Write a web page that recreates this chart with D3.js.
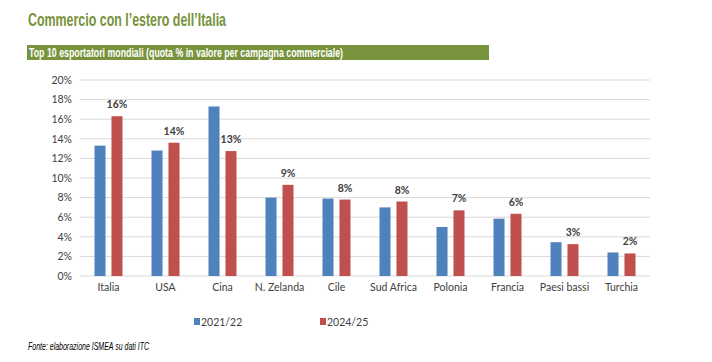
<!DOCTYPE html>
<html>
<head>
<meta charset="utf-8">
<script src="https://cdn.jsdelivr.net/npm/d3@7"></script>
<style>
  body { margin: 0; background: #fff; }
  svg { display: block; }
</style>
</head>
<body>
<div id="chart"></div>
<script>
var categories = ["Italia", "USA", "Cina", "N. Zelanda", "Cile", "Sud Africa", "Polonia", "Francia", "Paesi bassi", "Turchia"];
var series = ["2021/22", "2024/25"];
var values2122 = [13.3, 12.8, 17.3, 8.0, 7.9, 7.0, 5.0, 5.85, 3.45, 2.4];
var values2425 = [16.3, 13.6, 12.75, 9.3, 7.8, 7.6, 6.7, 6.35, 3.25, 2.3];
var labels2425 = ["16%", "14%", "13%", "9%", "8%", "8%", "7%", "6%", "3%", "2%"];
var yTicks = [0, 2, 4, 6, 8, 10, 12, 14, 16, 18, 20];

var colors = ["#4f81bd", "#c0504d"];

var W = 712, H = 362;
var margin = {top: 80, left: 80, right: 62, bottom: 86};
var width = W - margin.left - margin.right,
    height = H - margin.top - margin.bottom;

var svg = d3.select("#chart").append("svg")
    .attr("width", W)
    .attr("height", H);

var fontHead = "'Liberation Sans', Arial, sans-serif";

// heading (condensed type squeezed to width)
svg.append("text")
    .attr("x", 28).attr("y", 26)
    .attr("fill", "#77933c")
    .attr("font-family", fontHead)
    .attr("font-weight", "bold")
    .attr("font-size", 19)
    .attr("textLength", 198)
    .attr("lengthAdjust", "spacingAndGlyphs")
    .text("Commercio con l\u2019estero dell\u2019Italia");

svg.append("rect")
    .attr("x", 27).attr("y", 45)
    .attr("width", 462).attr("height", 15)
    .attr("fill", "#77933c");

svg.append("text")
    .attr("x", 29).attr("y", 57)
    .attr("fill", "#fff")
    .attr("font-family", fontHead)
    .attr("font-weight", "bold")
    .attr("font-size", 12.5)
    .attr("textLength", 314)
    .attr("lengthAdjust", "spacingAndGlyphs")
    .text("Top 10 esportatori mondiali (quota % in valore per campagna commerciale)");

var g = svg.append("g")
    .attr("transform", "translate(" + margin.left + "," + margin.top + ")");

var x0 = d3.scaleBand().domain(categories).range([0, width]);
var x1 = d3.scaleBand().domain(series).range([0, 28]).paddingInner(0.35);
var y = d3.scaleLinear().domain([0, 20]).range([height, 0]);

var fontAxis = "Lato, 'Open Sans', sans-serif";

// gridlines
g.append("g")
    .selectAll("line")
    .data(yTicks)
    .enter().append("line")
    .attr("x1", 0).attr("x2", width)
    .attr("y1", function(d) { return y(d); })
    .attr("y2", function(d) { return y(d); })
    .attr("stroke", "#d9d9d9")
    .attr("stroke-width", 1);

var yAxis = d3.axisLeft(y)
    .tickValues(yTicks)
    .tickSize(0)
    .tickPadding(8)
    .tickFormat(function(d) { return d + "%"; });

g.append("g")
    .attr("class", "y axis")
    .call(yAxis)
    .call(function(s) { s.select(".domain").remove(); })
    .selectAll("text")
    .attr("font-family", fontAxis)
    .attr("font-size", 10.5)
    .attr("fill", "#404040");

var xAxis = d3.axisBottom(x0).tickSize(0).tickPadding(8);
g.append("g")
    .attr("class", "x axis")
    .attr("transform", "translate(0," + height + ")")
    .call(xAxis)
    .call(function(s) { s.select(".domain").remove(); })
    .selectAll("text")
    .attr("font-family", fontAxis)
    .attr("font-size", 10.5)
    .attr("fill", "#404040");

var data = categories.map(function(c, i) {
  return {name: c, vals: [values2122[i], values2425[i]], label: labels2425[i]};
});

var off = (x0.bandwidth() - 28) / 2;

var cat = g.selectAll(".cat")
    .data(data)
  .enter().append("g")
    .attr("class", "cat")
    .attr("transform", function(d) { return "translate(" + (x0(d.name) + off) + ",0)"; });

cat.selectAll("rect")
    .data(function(d) { return d.vals.map(function(v, j) { return {s: series[j], v: v, j: j}; }); })
  .enter().append("rect")
    .attr("x", function(d) { return x1(d.s); })
    .attr("y", function(d) { return y(d.v); })
    .attr("width", x1.bandwidth())
    .attr("height", function(d) { return height - y(d.v); })
    .attr("fill", function(d) { return colors[d.j]; });

cat.append("text")
    .attr("x", x1("2024/25") + x1.bandwidth() / 2)
    .attr("y", function(d) { return y(d.vals[1]) - 8; })
    .attr("text-anchor", "middle")
    .attr("font-family", fontAxis)
    .attr("font-weight", "bold")
    .attr("font-size", 10.5)
    .attr("fill", "#404040")
    .text(function(d) { return d.label; });

// legend
var legendX = [194, 320];
var lg = svg.selectAll(".legend")
    .data(series)
  .enter().append("g")
    .attr("class", "legend")
    .attr("transform", function(d, i) { return "translate(" + legendX[i] + ",318)"; });

lg.append("rect")
    .attr("width", 6).attr("height", 7)
    .attr("fill", function(d, i) { return colors[i]; });

lg.append("text")
    .attr("x", 7).attr("y", 7.5)
    .attr("font-family", fontAxis)
    .attr("font-size", 10.5)
    .attr("fill", "#404040")
    .text(function(d) { return d; });

svg.append("text")
    .attr("x", 28).attr("y", 350)
    .attr("font-family", fontHead)
    .attr("font-style", "italic")
    .attr("font-size", 11)
    .attr("fill", "#000")
    .attr("textLength", 121)
    .attr("lengthAdjust", "spacingAndGlyphs")
    .text("Fonte: elaborazione ISMEA su dati ITC");
</script>
</body>
</html>
